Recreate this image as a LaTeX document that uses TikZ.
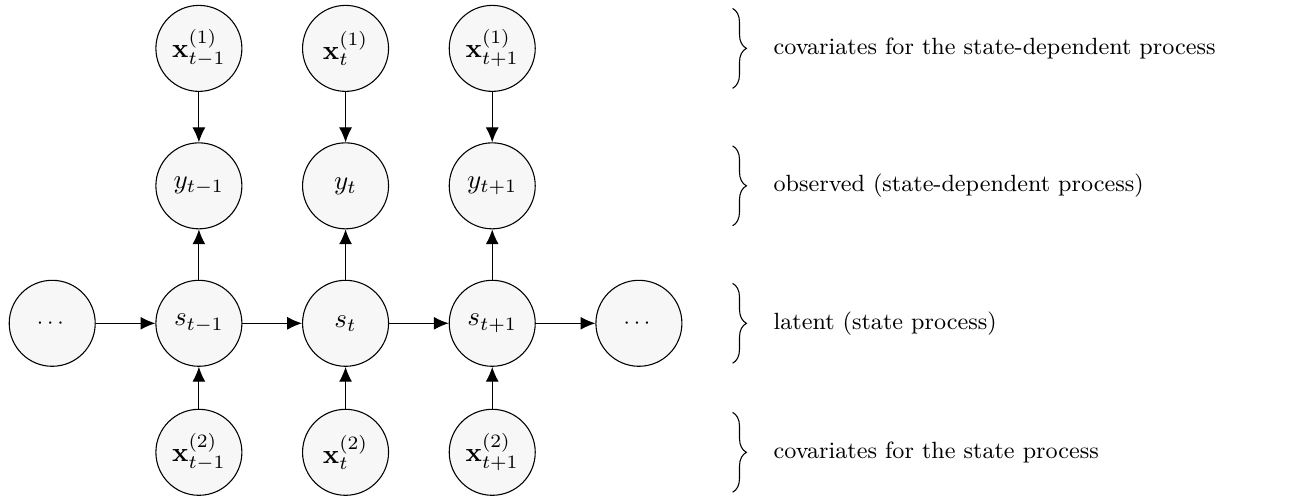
\documentclass[tikz,border=0pt]{standalone}
\usepackage{amsmath}
\usepackage{tikz}
\usetikzlibrary{arrows.meta,positioning,decorations.pathreplacing}
\tikzstyle{var} = [circle, draw, fill=gray!6, minimum size=1.12cm, inner sep=0pt]
\tikzstyle{lbl} = [anchor=west, align=left, font=\fontsize{8.7}{10}\selectfont]
\tikzstyle{brc} = [-, decorate, decoration={brace, amplitude=0.18cm}]

\begin{document}
\begin{tikzpicture}[->,>={Latex[length=5.5pt,width=4.8pt]},auto,node distance=1.91cm and 1.91cm,
                    on grid]
  \useasboundingbox (-0.68,-2.25) rectangle (16.34,4.21);

  % latent chain
  \node[var]           (s0) {\footnotesize$\cdots$};
  \node[var]           (s1) [right=of s0] {$s_{t-1}$};
  \node[var]           (s2) [right=of s1] {$s_t$};
  \node[var]           (s3) [right=of s2] {$s_{t+1}$};
  \node[var]           (s4) [right=of s3] {\footnotesize$\cdots$};

  % observations
  \node[var]           (y1) [above=1.79cm of s1] {$y_{t-1}$};
  \node[var]           (y2) [above=1.79cm of s2] {$y_t$};
  \node[var]           (y3) [above=1.79cm of s3] {$y_{t+1}$};

  % covariates
  \node[var]           (xa1) [above=1.79cm of y1] {$\mathbf{x}_{t-1}^{(1)}$};
  \node[var]           (xa2) [above=1.79cm of y2] {$\mathbf{x}_{t}^{(1)}$};
  \node[var]           (xa3) [above=1.79cm of y3] {$\mathbf{x}_{t+1}^{(1)}$};
  \node[var]           (xb1) [below=1.68cm of s1] {$\mathbf{x}_{t-1}^{(2)}$};
  \node[var]           (xb2) [below=1.68cm of s2] {$\mathbf{x}_{t}^{(2)}$};
  \node[var]           (xb3) [below=1.68cm of s3] {$\mathbf{x}_{t+1}^{(2)}$};

  \path (s0) edge (s1)
  (s1) edge (s2)
  (s2) edge (s3)
  (s3) edge (s4);
  \foreach \i in {1,2,3} {
    \path (xa\i) edge (y\i)
    (s\i) edge (y\i)
    (xb\i) edge (s\i);
  }

  % braces and descriptions
  \foreach \r/\t in {xa1/covariates for the state-dependent process,
                     y1/observed (state-dependent process),
                     s1/latent (state process),
                     xb1/covariates for the state process} {
    \draw[brc] ([xshift=6.95cm,yshift=0.52cm]\r.center) -- ([xshift=6.95cm,yshift=-0.52cm]\r.center);
    \node[lbl] (l\r) at ([xshift=7.36cm]\r.center) {\t};
  }
\end{tikzpicture}
\end{document}
